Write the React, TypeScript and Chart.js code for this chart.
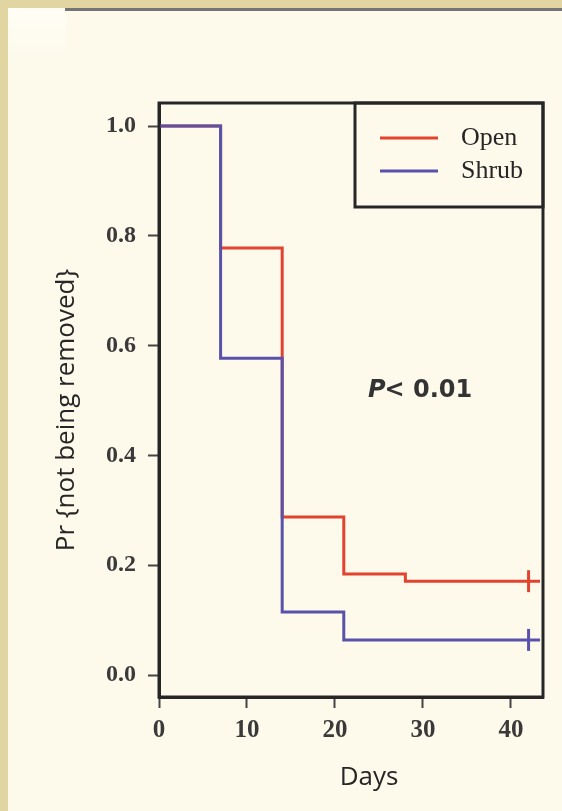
import React, { useEffect, useRef } from "react";
import { Chart, registerables } from "chart.js";

Chart.register(...registerables);

// ---- data ----
const seriesNames = ["Open", "Shrub"];
const openDays = [0, 7, 14, 21, 28, 43.3];
const openSurvival = [1.0, 0.778, 0.288, 0.184, 0.171, 0.171];
const shrubDays = [0, 7, 14, 21, 43.3];
const shrubSurvival = [1.0, 0.577, 0.115, 0.064, 0.064];
const openCensorDays = [42];
const openCensorSurvival = [0.171];
const shrubCensorDays = [42];
const shrubCensorSurvival = [0.064];
const xTicks = [0, 10, 20, 30, 40];
const yTicks = [0, 0.2, 0.4, 0.6, 0.8, 1.0];
const xTitle = "Days";
const yTitle = "Pr {not being removed}";
const pText = "< 0.01";

const RED = "#e2432f";
const BLUE = "#5852aa";
const INK = "#262626";

const toPts = (xs: number[], ys: number[]) => xs.map((x, i) => ({ x, y: ys[i] }));

const decorPlugin = {
  id: "decor",
  beforeDraw(chart: any) {
    const ctx = chart.ctx;
    const { width, height } = chart;
    ctx.save();
    ctx.fillStyle = "#fdfaec";
    ctx.fillRect(0, 0, width, height);
    const g = ctx.createLinearGradient(0, 8, 0, 60);
    g.addColorStop(0, "#fffdf5");
    g.addColorStop(1, "#fdfaec");
    ctx.fillStyle = g;
    ctx.fillRect(8, 8, 58, 52);
    ctx.fillStyle = "#e1d6a2";
    ctx.fillRect(0, 0, width, 8);
    ctx.fillRect(0, 0, 8, height);
    ctx.fillStyle = "#747474";
    ctx.fillRect(65, 8, width - 65, 3);
    ctx.restore();
  },
  afterDraw(chart: any) {
    const ctx = chart.ctx;
    const a = chart.chartArea;
    ctx.save();
    // plot frame
    ctx.strokeStyle = INK;
    ctx.lineWidth = 3;
    ctx.strokeRect(a.left, a.top, a.right - a.left, a.bottom - a.top);
    // legend box
    const lx = 355;
    const ly = a.top;
    const lw = a.right - lx;
    const lh = 104;
    ctx.strokeRect(lx, ly, lw, lh);
    const entries = [
      { name: seriesNames[0], color: RED, y: ly + 35 },
      { name: seriesNames[1], color: BLUE, y: ly + 68 },
    ];
    ctx.font = "26px 'Liberation Serif'";
    ctx.textBaseline = "middle";
    ctx.textAlign = "left";
    for (const e of entries) {
      ctx.strokeStyle = e.color;
      ctx.lineWidth = 3;
      ctx.beginPath();
      ctx.moveTo(lx + 25, e.y);
      ctx.lineTo(lx + 83, e.y);
      ctx.stroke();
      ctx.fillStyle = INK;
      ctx.fillText(e.name, lx + 106, e.y);
    }
    // P-value annotation
    ctx.fillStyle = "#333";
    ctx.textBaseline = "alphabetic";
    ctx.font = "italic bold 24px 'DejaVu Sans'";
    const px = 368;
    const py = 397;
    ctx.fillText("P", px, py);
    const pw = ctx.measureText("P").width;
    ctx.font = "bold 24px 'DejaVu Sans'";
    ctx.fillText(pText, px + pw - 1, py);
    // axis titles
    ctx.fillStyle = INK;
    ctx.font = "26px 'Open Sans'";
    ctx.textAlign = "center";
    ctx.textBaseline = "middle";
    ctx.fillText(xTitle, 369, 778);
    ctx.save();
    ctx.translate(67, 410);
    ctx.rotate(-Math.PI / 2);
    ctx.fillText(yTitle, 0, 0);
    ctx.restore();
    ctx.restore();
  },
};

export default function App() {
  const ref = useRef<HTMLCanvasElement | null>(null);
  useEffect(() => {
    if (!ref.current) return;
    const tickFont = { family: "'Liberation Serif'", size: 24, weight: "bold" as const };
    const chart = new Chart(ref.current, {
      type: "line",
      data: {
        datasets: [
          {
            label: seriesNames[1],
            data: toPts(shrubDays, shrubSurvival),
            borderColor: BLUE,
            borderWidth: 3,
            stepped: true,
            pointRadius: 0,
            fill: false,
            order: 0,
          },
          {
            label: seriesNames[0],
            data: toPts(openDays, openSurvival),
            borderColor: RED,
            borderWidth: 3,
            stepped: true,
            pointRadius: 0,
            fill: false,
            order: 2,
          },
          {
            label: seriesNames[1] + " censored",
            data: toPts(shrubCensorDays, shrubCensorSurvival),
            showLine: false,
            pointStyle: "line",
            rotation: 90,
            pointRadius: 11,
            borderColor: BLUE,
            borderWidth: 3,
            order: 0,
          },
          {
            label: seriesNames[0] + " censored",
            data: toPts(openCensorDays, openCensorSurvival),
            showLine: false,
            pointStyle: "line",
            rotation: 90,
            pointRadius: 11,
            borderColor: RED,
            borderWidth: 3,
            order: 1,
          },
        ],
      },
      options: {
        responsive: false,
        animation: false,
        layout: { padding: { left: 0, top: 103, right: 19, bottom: 0 } },
        plugins: { legend: { display: false }, tooltip: { enabled: false } },
        scales: {
          x: {
            type: "linear",
            min: 0,
            max: 43.64,
            afterBuildTicks: (s: any) => {
              s.ticks = xTicks.map((v) => ({ value: v }));
            },
            afterFit: (s: any) => {
              s.height = 114;
            },
            ticks: {
              font: { ...tickFont, size: 25 },
              color: "#3a3a3a",
              padding: 8,
              maxRotation: 0,
              autoSkip: false,
              callback: (v: any) => String(v),
            },
            grid: {
              drawOnChartArea: false,
              drawTicks: true,
              tickLength: 11,
              tickColor: "#444",
              tickWidth: 2,
            },
            border: { display: true, color: INK, width: 3 },
          },
          y: {
            type: "linear",
            min: -0.04,
            max: 1.042,
            afterBuildTicks: (s: any) => {
              s.ticks = yTicks.map((v) => ({ value: v }));
            },
            afterFit: (s: any) => {
              s.width = 159;
            },
            ticks: {
              font: tickFont,
              color: "#3a3a3a",
              padding: 12,
              autoSkip: false,
              callback: (v: any) => Number(v).toFixed(1),
            },
            grid: {
              drawOnChartArea: false,
              drawTicks: true,
              tickLength: 11,
              tickColor: "#444",
              tickWidth: 2,
            },
            border: { display: true, color: INK, width: 3 },
          },
        },
      },
      plugins: [decorPlugin],
    });
    return () => chart.destroy();
  }, []);
  return (
    <div style={{ position: "fixed", left: 0, top: 0, width: 562, height: 811 }}>
      <canvas ref={ref} width={562} height={811} style={{ display: "block", width: 562, height: 811 }} />
    </div>
  );
}
